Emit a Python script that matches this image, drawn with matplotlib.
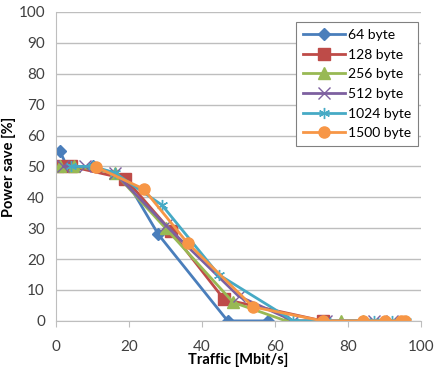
import matplotlib
matplotlib.use('Agg')
import matplotlib.pyplot as plt

plt.rcParams['font.family'] = ['Lato', 'DejaVu Sans']

# Données
x64 = [1, 3, 10, 19, 28, 47, 58]
y64 = [55, 50, 50, 46, 28, 0, 0]
x128 = [0.5, 4, 19, 31.5, 46, 73]
y128 = [50, 50, 46, 29, 7, 0]
x256 = [1, 5, 16, 30, 48.5, 63, 78, 84]
y256 = [50, 50, 48, 30, 6, 0, 0, 0]
x512 = [2, 8, 16, 30, 50, 65, 74, 87, 92]
y512 = [50, 50, 48, 31, 8, 0, 0, 0, 0]
x1024 = [4, 10, 16, 29, 44.5, 65, 74, 87, 92, 96]
y1024 = [50, 50, 48, 37.5, 15, 0, 0, 0, 0, 0]
x1500 = [11, 24, 36, 54, 73, 84, 90, 94.5, 95.5]
y1500 = [49.8, 42.7, 25.2, 4.5, 0, 0, 0, 0, 0]

fig = plt.figure(figsize=(4.35, 3.74), dpi=100)
ax = fig.add_axes([0.129, 0.142, 0.839, 0.826])

ax.plot(x64, y64, color='#4A7EBB', marker='D', ms=6, lw=2, label='64 byte')
ax.plot(x128, y128, color='#BE4B48', marker='s', ms=8, lw=2, label='128 byte')
ax.plot(x256, y256, color='#98B954', marker='^', ms=8, lw=2, label='256 byte')
ax.plot(x512, y512, color='#7D60A0', marker='x', ms=8, mew=1, lw=2, label='512 byte')
ax.plot(x1024, y1024, color='#46AAC5', marker=(6, 2, 0), ms=8, mew=1, lw=2, label='1024 byte')
ax.plot(x1500, y1500, color='#F79646', marker='o', ms=8, lw=2, label='1500 byte')

ax.set_xlim(0, 100)
ax.set_ylim(0, 100)
ax.set_xticks(range(0, 101, 20))
ax.set_yticks(range(0, 101, 10))
ax.yaxis.grid(True, color='#BEBEBE', lw=1)
ax.set_axisbelow(True)
for s in ['top', 'right']:
    ax.spines[s].set_visible(False)
for s in ['left', 'bottom']:
    ax.spines[s].set_color('#BEBEBE')
ax.tick_params(axis='both', colors='#BEBEBE', labelcolor='#404040', labelsize=11)
ax.tick_params(axis='y', length=0, pad=8)
ax.tick_params(axis='x', length=4, pad=10)
ax.set_xlabel('Traffic [Mbit/s]', fontweight='bold', fontsize=10.5, labelpad=-1)
ax.set_ylabel('Power save [%]', fontweight='bold', fontsize=10.5, labelpad=2)

leg = ax.legend(loc='upper right', bbox_to_anchor=(1.01, 0.99), fontsize=10,
                fancybox=False, edgecolor='#808080', framealpha=1,
                handlelength=3.0, labelspacing=0.55, borderpad=0.5, handletextpad=0.2)
leg.get_frame().set_linewidth(0.8)

fig.savefig('out.png', dpi=100)
